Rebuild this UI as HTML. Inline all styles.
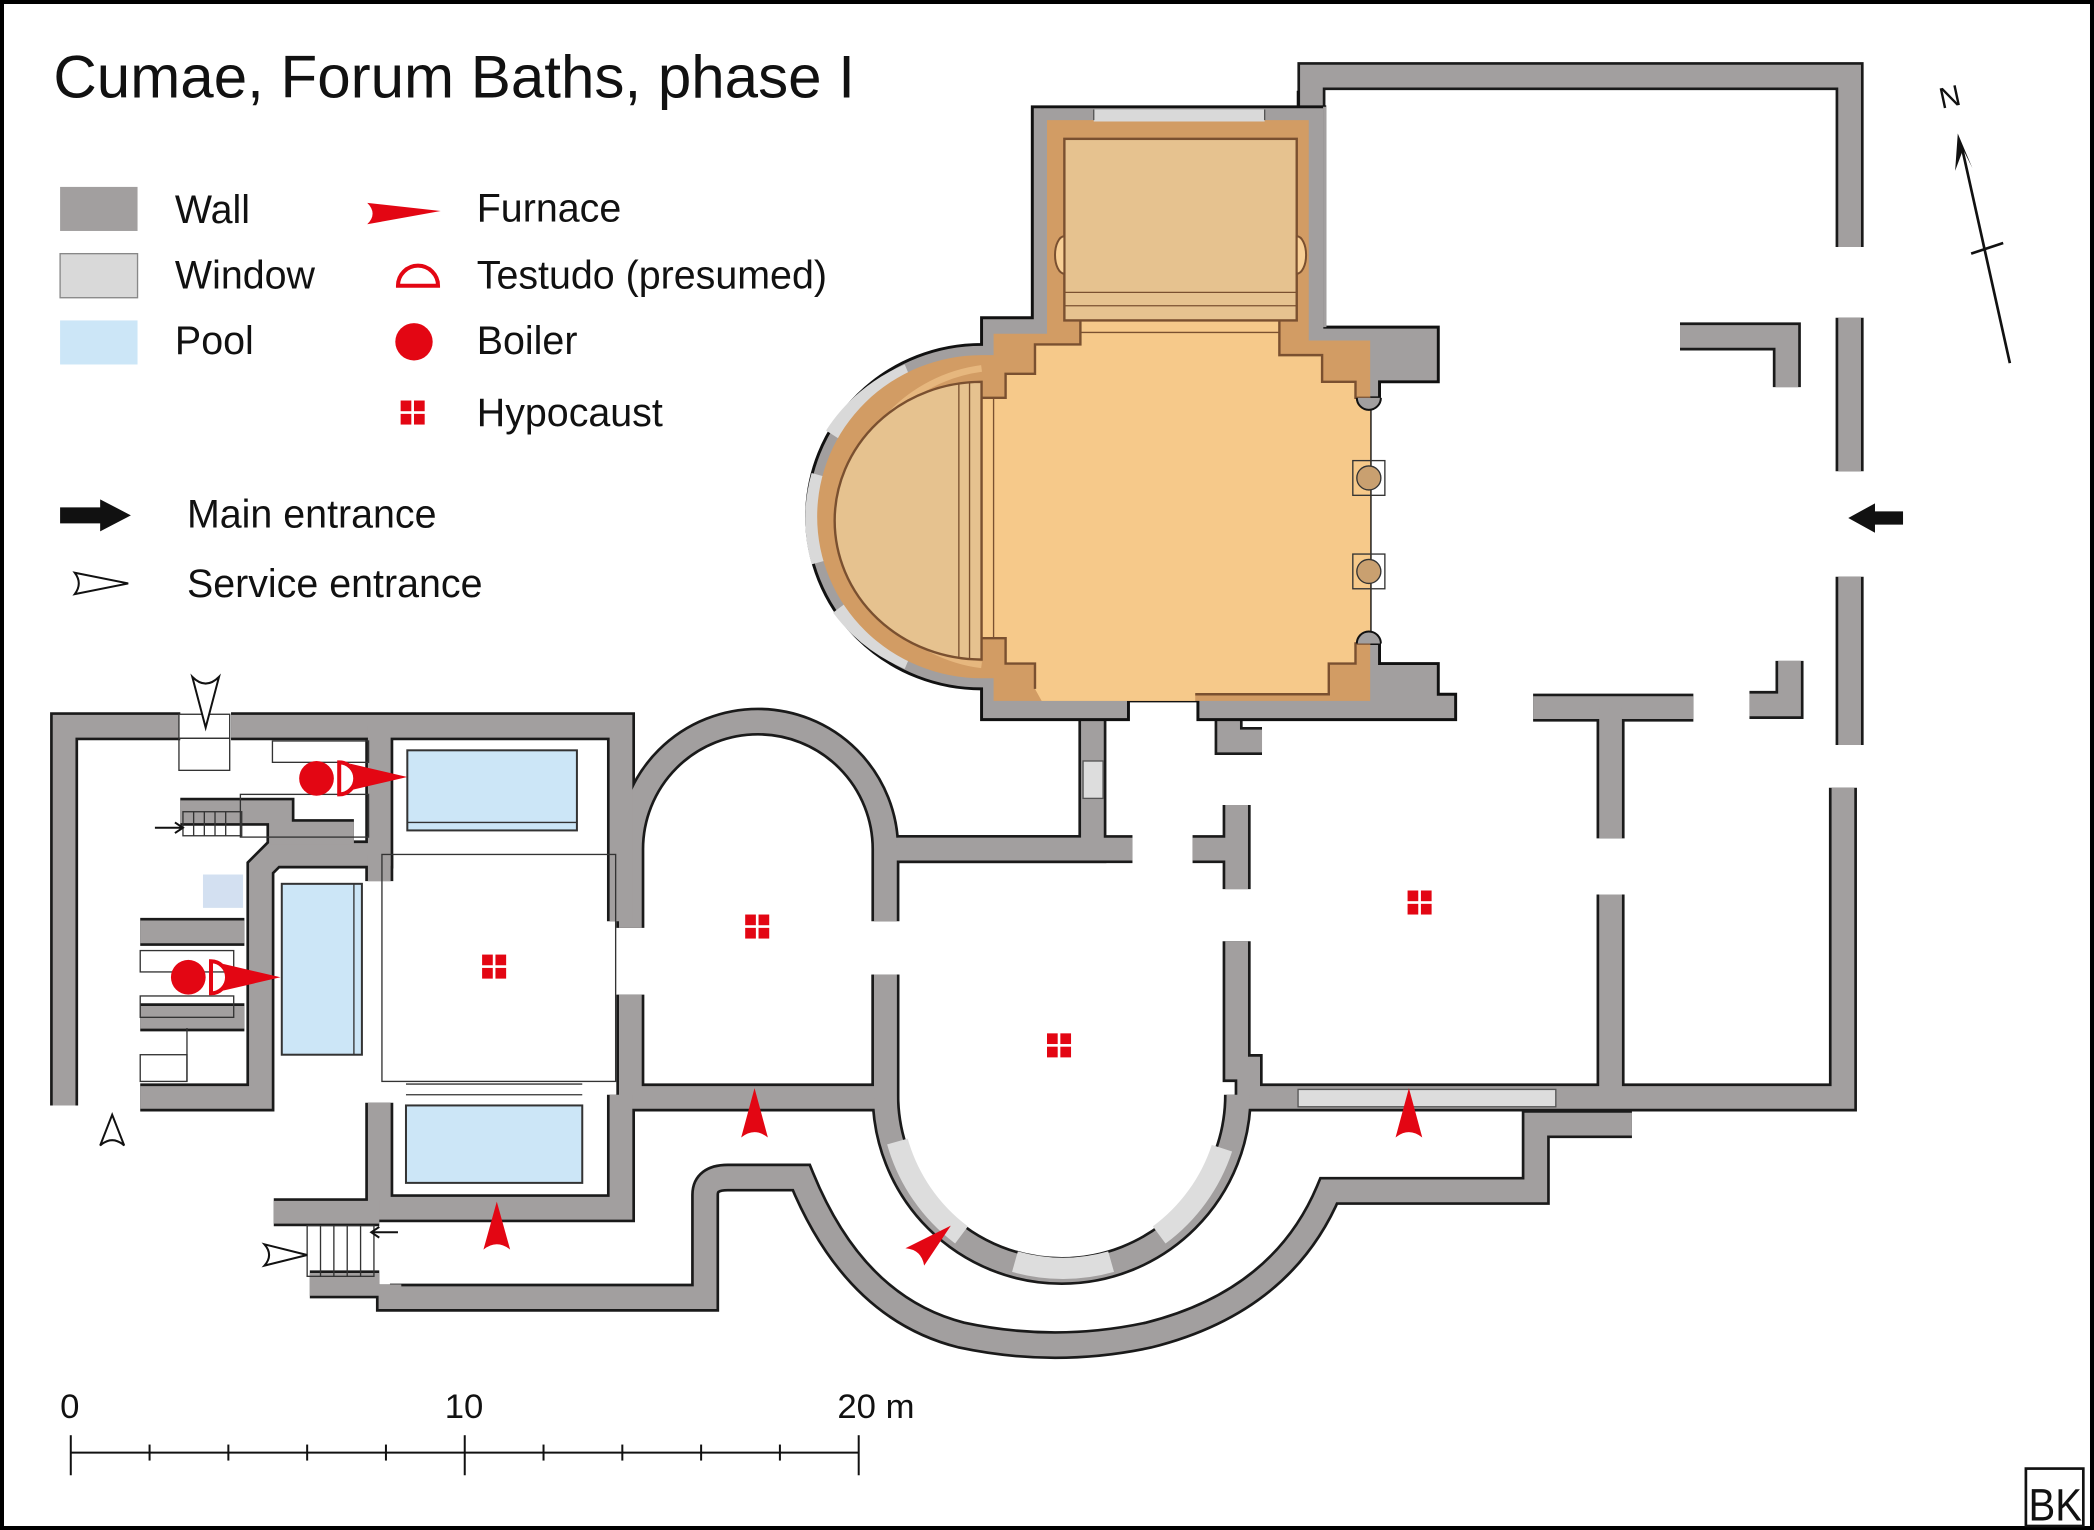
<!DOCTYPE html>
<html><head><meta charset="utf-8"><style>
html,body{margin:0;padding:0;background:#fff}
svg{display:block}
text{font-family:"Liberation Sans",sans-serif;fill:#111}
</style></head><body>
<svg width="2094" height="1530" viewBox="0 0 1568 1146" preserveAspectRatio="none" xmlns="http://www.w3.org/2000/svg">
<defs>
<g id="walls" fill="none" stroke-linejoin="miter" stroke-linecap="butt">
<path d="M982,255 L982,57 L1385,57 L1385,185"/>
<path d="M1385,238 L1385,353"/><path d="M1258,252 L1338,252 L1338,290"/>
<path d="M1385,432 L1385,558"/><path d="M1310,528 L1340,528 L1340,495"/>
<path d="M1380,590 L1380,822 L935,822 L935,800 L926,800 L926,705"/>
<path d="M926,666 L926,603"/><path d="M893,636 L926,636"/>
<path d="M1206,670 L1206,815"/><path d="M1148,530 L1268,530"/><path d="M1206,530 L1206,628"/>
<path d="M920,538 L920,555 L945,555"/>
<path d="M818,538 L818,636 L672,636"/><path d="M848,636 L663,636"/>
<path d="M472,695 L472,636 A95.5,95.5 0 0 1 663,636 L663,690"/>
<path d="M472,745 L472,822 L663,822 L663,730"/>
<path d="M663,730 L663,820 A132,132 0 0 0 927,820"/>
<path d="M48,828 L48,544 L135,544"/><path d="M173,544 L465,544 L465,690"/>
<path d="M284,544 L284,640 L205,640 L195,650 L195,822 L105,822"/>
<path d="M284,640 L284,660"/>
<path d="M105,698 L183,698"/><path d="M105,762 L183,762"/>
<path d="M135,608 L210,608 L210,624 L265,624"/>
<path d="M284,826 L284,905 L465,905 L465,820"/>
<path d="M205,908 L284,908"/>
<path d="M232,962 L284,962"/>
<path d="M292,962 L292,972 L528,972 L528,895 Q528,882 545,882 L600,882 Q640,980 720,1000 Q790,1015 860,1000 Q960,975 995,892 L1150,892 L1150,842 L1222,842"/>
</g>
</defs>
<rect x="1.5" y="1.5" width="1565" height="1143" fill="#fff" stroke="#000" stroke-width="3"/>
<text x="40" y="73" font-size="45">Cumae, Forum Baths, phase I</text>

<!-- legend -->
<rect x="45" y="140" width="58" height="33" fill="#a29f9f"/><text x="131" y="167" font-size="29.5">Wall</text>
<rect x="45" y="190" width="58" height="33" fill="#d9d9d9" stroke="#888"/><text x="131" y="216" font-size="29.5">Window</text>
<rect x="45" y="240" width="58" height="33" fill="#cce6f7"/><text x="131" y="265" font-size="29.5">Pool</text>
<path d="M275,152 L330,158 L275,168 Q283,160 275,152Z" fill="#e30613"/><text x="357" y="166" font-size="29.5">Furnace</text>
<path d="M298,214 A15,15 0 0 1 328,214 Z" fill="none" stroke="#e30613" stroke-width="3"/><text x="357" y="216" font-size="29.5">Testudo (presumed)</text>
<circle cx="310" cy="256" r="14" fill="#e30613"/><text x="357" y="265" font-size="29.5">Boiler</text>
<g fill="#e30613"><rect x="300" y="300" width="8" height="8"/><rect x="310" y="300" width="8" height="8"/><rect x="300" y="310" width="8" height="8"/><rect x="310" y="310" width="8" height="8"/></g>
<text x="357" y="319" font-size="29.5">Hypocaust</text>
<path d="M45,380 L75,380 L75,374 L98,386 L75,398 L75,392 L45,392Z" fill="#111"/><text x="140" y="395" font-size="29.5">Main entrance</text>
<path d="M56,429 L96,437 L56,445 Q62,437 56,429Z" fill="#fff" stroke="#111" stroke-width="1.5"/><text x="140" y="447" font-size="29.5">Service entrance</text>

<!-- north -->
<line x1="1505" y1="272" x2="1469" y2="110" stroke="#111" stroke-width="2"/>
<path d="M1466,100 L1464,128 L1470,112 L1477,126Z" fill="#111"/>
<line x1="1476" y1="190" x2="1500" y2="182" stroke="#111" stroke-width="2"/>
<text x="1452" y="80" font-size="22" transform="rotate(-12 1460 72)">N</text>

<!-- walls -->
<use href="#walls" stroke="#1a1a1a" stroke-width="21"/>
<use href="#walls" stroke="#a29f9f" stroke-width="17"/>

<!-- heated block -->
<path d="M773,80 L992,80 L992,245 L1077,245 L1077,286 L1033,286 L1033,298 L1026,298 L1026,482 L1033,482 L1033,497 L1077,497 L1077,520 L1090,520 L1090,539 L897,539 L897,525 L845,525 L845,539 L735,539 L735,516 A131,129 0 0 1 735,258 L735,238 L773,238 Z" fill="#a29f9f" stroke="#111" stroke-width="2.2"/>
<line x1="992" y1="80" x2="992" y2="245" stroke="#a29f9f" stroke-width="2.5"/>
<line x1="972" y1="80" x2="972" y2="68" stroke="#111" stroke-width="2"/>
<g fill="none" stroke="#d9d9d9" stroke-width="13">
<path d="M680,279 A124,122 0 0 0 624,326"/>
<path d="M614,356 A124,122 0 0 0 614,421"/>
<path d="M629,455 A124,122 0 0 0 680,495"/>
</g>
<path d="M784,90 L980,90 L980,255 L1026,255 L1026,525 L744,525 L744,508 L735,508 A117,115 0 0 1 735,266 L744,266 L744,250 L784,250 Z" fill="#d29c64"/>
<path d="M735,276 A114,112 0 0 0 735,498" fill="none" stroke="#e6b77e" stroke-width="5"/>
<path d="M775,258 L809,258 L809,240 L958,240 L958,266 L990,266 L990,286 L1015,286 L1015,298 L1026,298 L1026,482 L1015,482 L1015,497 L995,497 L995,520 L895,520 L895,525 L780,525 L775,516 L775,497 L753,497 L753,478 L735,478 L735,298 L753,298 L753,280 L775,280 Z" fill="#f6c98a"/>
<path d="M1026,298 L1015,298 L1015,286 L990,286 L990,266 L958,266 L958,240 M809,240 L809,258 L775,258 L775,280 L753,280 L753,298 L735,298 M735,478 L753,478 L753,497 L775,497 L775,516 M1026,482 L1015,482 L1015,497 L995,497 L995,520 L895,520" fill="none" stroke="#7a5030" stroke-width="1.8"/>
<rect x="797" y="104" width="174" height="136" fill="#e6c28f" stroke="#7a5030" stroke-width="1.8"/>
<path d="M797,177 A7,14 0 0 0 797,205Z M971,177 A7,14 0 0 1 971,205Z" fill="#f8cf95" stroke="#7a5030" stroke-width="1.5"/>
<path d="M735,286 A110,104 0 0 0 735,494 Z" fill="#e6c28f" stroke="#7a5030" stroke-width="1.8"/>
<rect x="819" y="82" width="128" height="9" fill="#d9d9d9"/>
<line x1="819" y1="82" x2="819" y2="90" stroke="#555"/><line x1="947" y1="82" x2="947" y2="90" stroke="#555"/>
<g stroke="#7a5030" stroke-width="1">
<line x1="797" y1="219" x2="971" y2="219"/><line x1="797" y1="229" x2="971" y2="229"/><line x1="809" y1="249" x2="958" y2="249"/>
<line x1="718" y1="288" x2="718" y2="492"/><line x1="726" y1="287" x2="726" y2="493"/><line x1="744" y1="298" x2="744" y2="478"/>
</g>
<path d="M1016,298 A9,9 0 0 0 1034,298 M1016,482 A9,9 0 0 1 1034,482" fill="#a29f9f" stroke="#111" stroke-width="1.5"/>
<rect x="1013" y="345" width="24" height="26" fill="none" stroke="#333"/><circle cx="1025" cy="358" r="9" fill="#c9a070" stroke="#333"/>
<rect x="1013" y="415" width="24" height="26" fill="none" stroke="#333"/><circle cx="1025" cy="428" r="9" fill="#c9a070" stroke="#333"/>

<!-- windows -->
<rect x="972" y="816" width="193" height="13" fill="#ddd" stroke="#555"/>
<rect x="811" y="570" width="15" height="28" fill="#ddd" stroke="#555"/>
<path d="M672,855 A132,132 0 0 0 720,925 M760,945 A132,132 0 0 0 832,945 M868,925 A132,132 0 0 0 915,860" fill="none" stroke="#ddd" stroke-width="16"/>
<rect x="134" y="535" width="38" height="18" fill="#fff" stroke="#333"/>

<!-- pools -->
<rect x="305" y="562" width="127" height="60" fill="#cce6f7" stroke="#333" stroke-width="1.5"/>
<rect x="211" y="662" width="60" height="128" fill="#cce6f7" stroke="#333" stroke-width="1.5"/>
<rect x="304" y="828" width="132" height="58" fill="#cce6f7" stroke="#333" stroke-width="1.5"/>
<g stroke="#333" stroke-width="1" fill="none">
<line x1="305" y1="616" x2="432" y2="616"/><line x1="265" y1="662" x2="265" y2="790"/>
<rect x="286" y="640" width="175" height="170"/><line x1="304" y1="812" x2="436" y2="812"/><line x1="304" y1="820" x2="436" y2="820"/>
<rect x="204" y="555" width="72" height="16"/><rect x="180" y="595" width="96" height="32"/>
<rect x="137" y="608" width="44" height="18"/><rect x="134" y="553" width="38" height="24"/>
<line x1="145" y1="608" x2="145" y2="626"/><line x1="153" y1="608" x2="153" y2="626"/><line x1="161" y1="608" x2="161" y2="626"/><line x1="169" y1="608" x2="169" y2="626"/>
<rect x="105" y="712" width="70" height="16"/><rect x="105" y="746" width="70" height="16"/>
<rect x="105" y="790" width="35" height="20"/><line x1="140" y1="770" x2="140" y2="810"/>
<rect x="230" y="918" width="50" height="38"/><line x1="240" y1="918" x2="240" y2="956"/><line x1="250" y1="918" x2="250" y2="956"/><line x1="260" y1="918" x2="260" y2="956"/><line x1="270" y1="918" x2="270" y2="956"/>
</g>
<path d="M152,655 L182,655 L182,680 L152,680Z" fill="#c8d8ee" opacity=".8"/>

<!-- boilers / testudo / furnaces -->
<g fill="#e30613">
<circle cx="237" cy="583" r="13"/><circle cx="141" cy="732" r="13"/>
<path d="M254,571 A12,12 0 0 1 254,595Z" fill="none" stroke="#e30613" stroke-width="3"/>
<path d="M158,720 A12,12 0 0 1 158,744Z" fill="none" stroke="#e30613" stroke-width="3"/>
<path d="M262,572 L305,582 L262,592 Q270,582 262,572Z"/>
<path d="M167,722 L210,732 L167,742 Q175,732 167,722Z"/>
<path d="M555,852 L565,815 L575,852 Q565,844 555,852Z"/>
<path d="M362,936 L372,900 L382,936 Q372,928 362,936Z"/>
<path d="M1045,852 L1055,815 L1065,852 Q1055,844 1045,852Z"/>
<path d="M678,935 L712,918 L692,948 Q690,936 678,935Z"/>
</g>
<g fill="#e30613">
<rect x="558" y="685" width="8" height="8"/><rect x="568" y="685" width="8" height="8"/><rect x="558" y="695" width="8" height="8"/><rect x="568" y="695" width="8" height="8"/>
<rect x="361" y="715" width="8" height="8"/><rect x="371" y="715" width="8" height="8"/><rect x="361" y="725" width="8" height="8"/><rect x="371" y="725" width="8" height="8"/>
<rect x="784" y="774" width="8" height="8"/><rect x="794" y="774" width="8" height="8"/><rect x="784" y="784" width="8" height="8"/><rect x="794" y="784" width="8" height="8"/>
<rect x="1054" y="667" width="8" height="8"/><rect x="1064" y="667" width="8" height="8"/><rect x="1054" y="677" width="8" height="8"/><rect x="1064" y="677" width="8" height="8"/>
</g>

<!-- entrances -->
<path d="M1384,388 L1404,377 L1404,383 L1425,383 L1425,393 L1404,393 L1404,399Z" fill="#111"/>
<path d="M144,507 L154,545 L164,507 Q154,517 144,507Z" fill="#fff" stroke="#111" stroke-width="1.5"/>
<path d="M75,858 L84,835 L93,858 Q84,850 75,858Z" fill="#fff" stroke="#111" stroke-width="1.5"/>
<path d="M198,932 L230,940 L198,948 Q205,940 198,932Z" fill="#fff" stroke="#111" stroke-width="1.5"/>
<path d="M116,620 L137,620 M131,616 L137,620 L131,624" stroke="#111" fill="none" stroke-width="1.5"/>
<path d="M298,923 L278,923 M284,919 L278,923 L284,927" stroke="#111" fill="none" stroke-width="1.5"/>

<!-- scale -->
<g stroke="#111" stroke-width="1.5">
<line x1="53" y1="1088" x2="643" y2="1088"/>
<line x1="53" y1="1075" x2="53" y2="1105"/><line x1="348" y1="1075" x2="348" y2="1105"/><line x1="643" y1="1075" x2="643" y2="1105"/>
<line x1="112" y1="1082" x2="112" y2="1094"/><line x1="171" y1="1082" x2="171" y2="1094"/><line x1="230" y1="1082" x2="230" y2="1094"/><line x1="289" y1="1082" x2="289" y2="1094"/>
<line x1="407" y1="1082" x2="407" y2="1094"/><line x1="466" y1="1082" x2="466" y2="1094"/><line x1="525" y1="1082" x2="525" y2="1094"/><line x1="584" y1="1082" x2="584" y2="1094"/>
</g>
<text x="45" y="1062" font-size="26">0</text><text x="333" y="1062" font-size="26">10</text><text x="627" y="1062" font-size="26">20 m</text>
<rect x="1517" y="1100" width="43" height="43" fill="#fff" stroke="#111" stroke-width="2"/>
<text x="1519" y="1139" font-size="34" textLength="40" lengthAdjust="spacingAndGlyphs">BK</text>
</svg>
</body></html>
